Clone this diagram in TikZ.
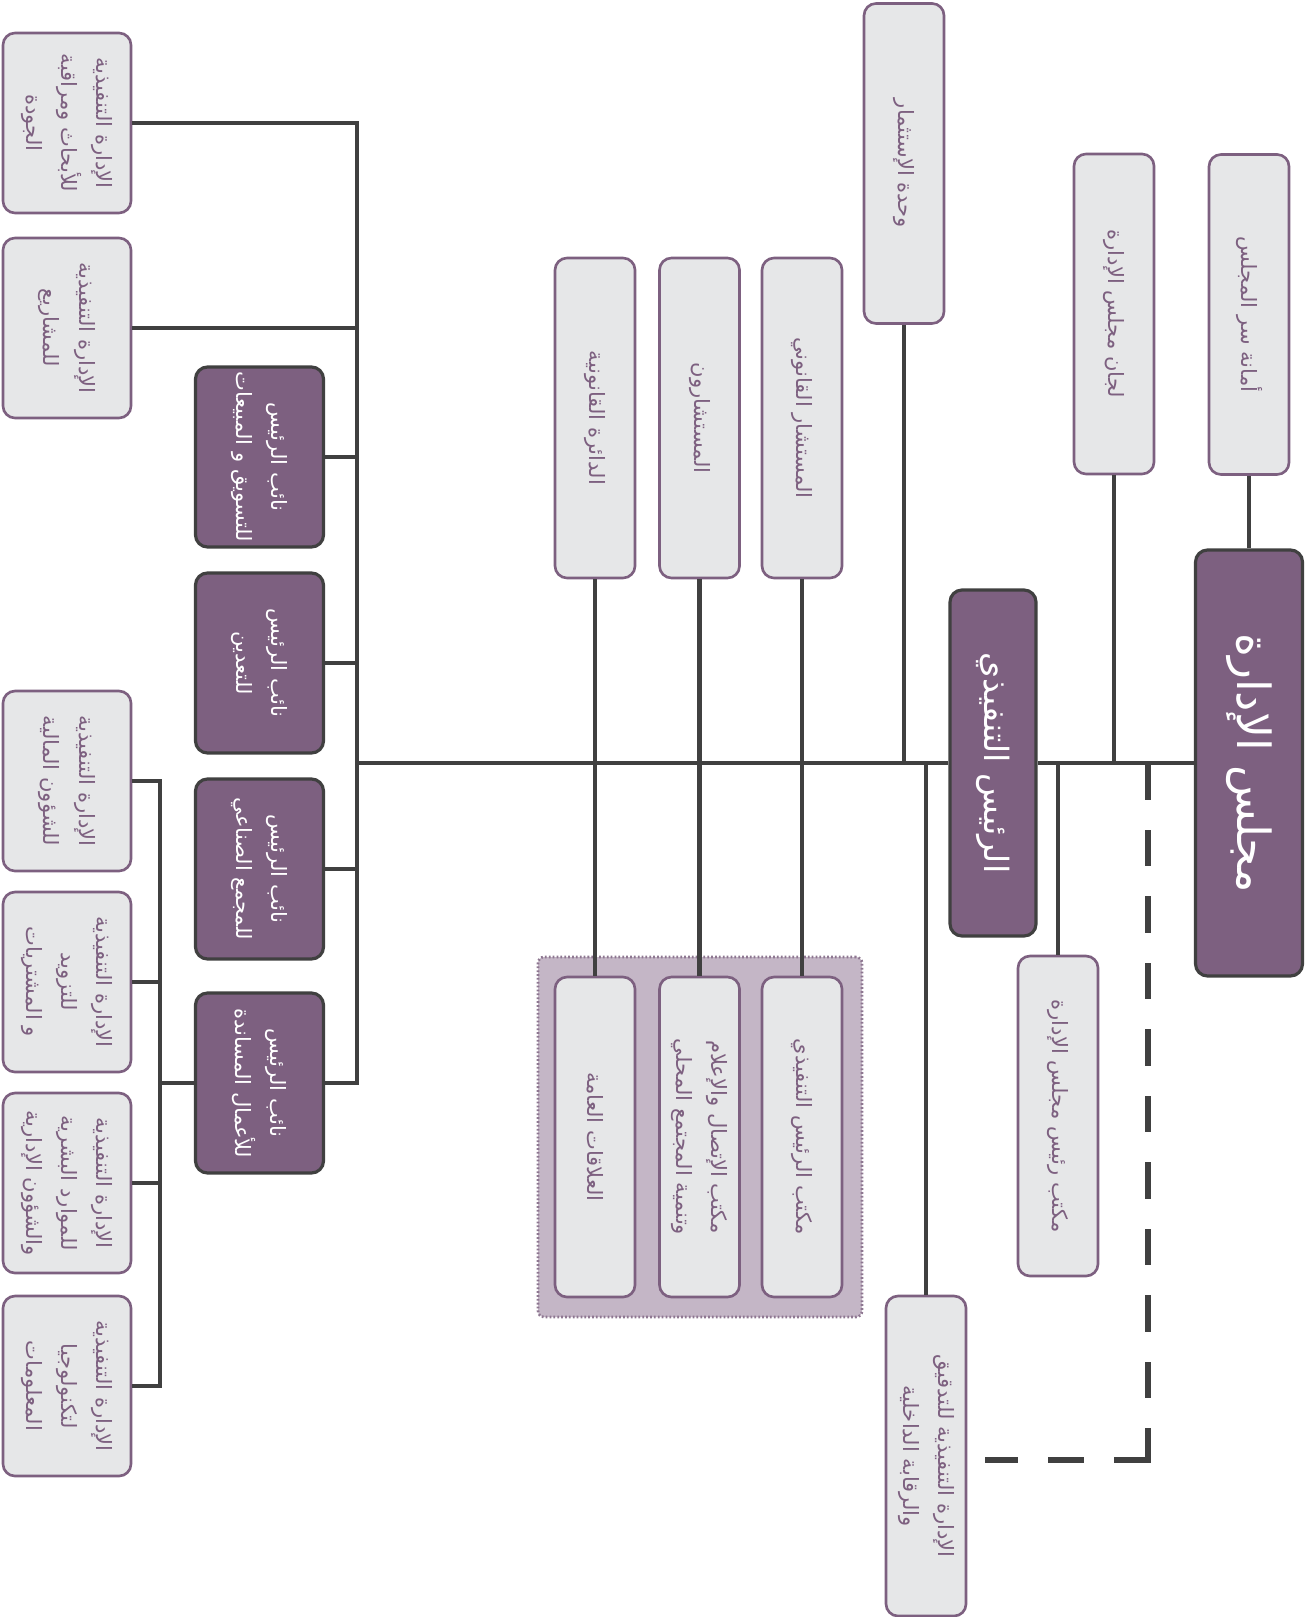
\documentclass[tikz,border=0pt]{standalone}
\usepackage{fontspec}
\newfontfamily\arabicfont[Script=Arabic]{DejaVu Sans}
\TeXXeTstate=1
\newcommand{\ar}[1]{\beginR #1\endR}
\definecolor{tim}{HTML}{7D6080}
\definecolor{xam}{HTML}{E6E7E8}
\definecolor{khung}{HTML}{404040}
\definecolor{nen}{HTML}{C4B6C6}
\definecolor{cham}{HTML}{8E7791}
\begin{document}
\begin{tikzpicture}[line join=miter,
	conn/.style={draw=khung,line width=2.7pt},
	dashline/.style={draw=khung,line width=3.1pt,line cap=rect,dash pattern=on 0.62cm off 0.71cm},
	hop/.style={rotate=-90,rounded corners=0.24cm,draw=tim,line width=1.5pt,fill=xam,text=tim,align=center,inner sep=2pt,font=\arabicfont\fontsize{12}{20}\selectfont},
	hoptim/.style={hop,draw=khung,line width=1.8pt,fill=tim,text=white},
	ngan/.style={minimum width=6.4cm,minimum height=1.6cm},
	vuong/.style={minimum width=3.6cm,minimum height=2.56cm},
	nhom/.style={draw=cham,line width=1.5pt,dash pattern=on 1pt off 1.2pt,fill=nen,rounded corners=0.12cm,minimum width=6.48cm,minimum height=7.2cm}]
	\useasboundingbox (0,0) rectangle (26.18,-32.34);
	%Hàng trên
	\node[hoptim,minimum width=8.52cm,minimum height=2.14cm,font=\arabicfont\fontsize{26}{30}\selectfont] (board) at (24.98,-15.26) {\ar{مجلس الإدارة}};
	\node[hoptim,minimum width=6.92cm,minimum height=1.72cm,font=\arabicfont\fontsize{19}{23}\selectfont] (ceo) at (19.86,-15.26) {\ar{الرئيس التنفيذي}};
	\node[hop,ngan] (amana) at (24.98,-6.29) {\ar{أمانة سر المجلس}};
	\node[hop,ngan] (lijan) at (22.28,-6.28) {\ar{لجان مجلس الإدارة}};
	\node[hop,ngan] (wahda) at (18.08,-3.27) {\ar{وحدة الإستثمار}};
	\node[hop,ngan] (mus) at (16.04,-8.36) {\ar{المستشار القانوني}};
	\node[hop,ngan] (musn) at (13.99,-8.36) {\ar{المستشارون}};
	\node[hop,ngan] (daira) at (11.9,-8.36) {\ar{الدائرة القانونية}};
	%Nhóm văn phòng
	\node[nhom] (grp) at (14.0,-22.74) {};
	\node[hop,ngan] (ceoff) at (16.04,-22.74) {\ar{مكتب الرئيس التنفيذي}};
	\node[hop,ngan] (comm) at (13.99,-22.74) {\ar{مكتب الإتصال والإعلام}\\\ar{وتنمية المجتمع المحلي}};
	\node[hop,ngan] (pr) at (11.9,-22.74) {\ar{العلاقات العامة}};
	\node[hop,ngan] (choff) at (21.16,-22.32) {\ar{مكتب رئيس مجلس الإدارة}};
	\node[hop,ngan] (audit) at (18.52,-29.12) {\ar{الإدارة التنفيذية للتدقيق}\\\ar{والرقابة الداخلية}};
	%Phó chủ tịch
	\node[hoptim,vuong] (vp1) at (5.19,-9.14) {\ar{نائب الرئيس}\\\ar{للتسويق و المبيعات}};
	\node[hoptim,vuong] (vp2) at (5.19,-13.26) {\ar{نائب الرئيس}\\\ar{للتعدين}};
	\node[hoptim,vuong] (vp3) at (5.19,-17.38) {\ar{نائب الرئيس}\\\ar{للمجمع الصناعي}};
	\node[hoptim,vuong] (vp4) at (5.19,-21.66) {\ar{نائب الرئيس}\\\ar{للأعمال المساندة}};
	%Các ban điều hành
	\node[hop,vuong] (res) at (1.34,-2.46) {\ar{الإدارة التنفيذية}\\\ar{للأبحاث ومراقبة}\\\ar{الجودة}};
	\node[hop,vuong] (proj) at (1.34,-6.56) {\ar{الإدارة التنفيذية}\\\ar{للمشاريع}};
	\node[hop,vuong] (fin) at (1.34,-15.62) {\ar{الإدارة التنفيذية}\\\ar{للشؤون المالية}};
	\node[hop,vuong] (sup) at (1.34,-19.64) {\ar{الإدارة التنفيذية}\\\ar{للتزويد}\\\ar{و المشتريات}};
	\node[hop,vuong] (hr) at (1.34,-23.66) {\ar{الإدارة التنفيذية}\\\ar{للموارد البشرية}\\\ar{والشؤون الإدارية}};
	\node[hop,vuong] (it) at (1.34,-27.72) {\ar{الإدارة التنفيذية}\\\ar{لتكنولوجيا}\\\ar{المعلومات}};
	\path (7.14,0) coordinate (lbus) (3.2,0) coordinate (sbus)
	(22.96,-15.32) coordinate (dtop) (22.96,-29.2) coordinate (dcorner) (19.76,-29.2) coordinate (dend);
	%Đường nối
	\draw[conn] (board) -- (ceo) (ceo) -- (ceo -| lbus) (board) -- (amana);
	\foreach \t in {lijan,wahda,choff,audit}{
		\draw[conn] (\t) -- (\t |- board);}
	\draw[conn] (mus) -- (ceoff) (musn) -- (comm) (daira) -- (pr);
	\draw[conn] (res) -| (lbus |- vp4) -- (vp4);
	\foreach \t in {proj,vp1,vp2,vp3}{
		\draw[conn] (\t) -- (\t -| lbus);}
	\draw[conn] (fin) -| (sbus |- it) -- (it);
	\foreach \t in {sup,hr,vp4}{
		\draw[conn] (\t) -- (\t -| sbus);}
	\draw[dashline] (dtop) -- (dcorner) (dcorner) -- (dend);
\end{tikzpicture}
\end{document}
